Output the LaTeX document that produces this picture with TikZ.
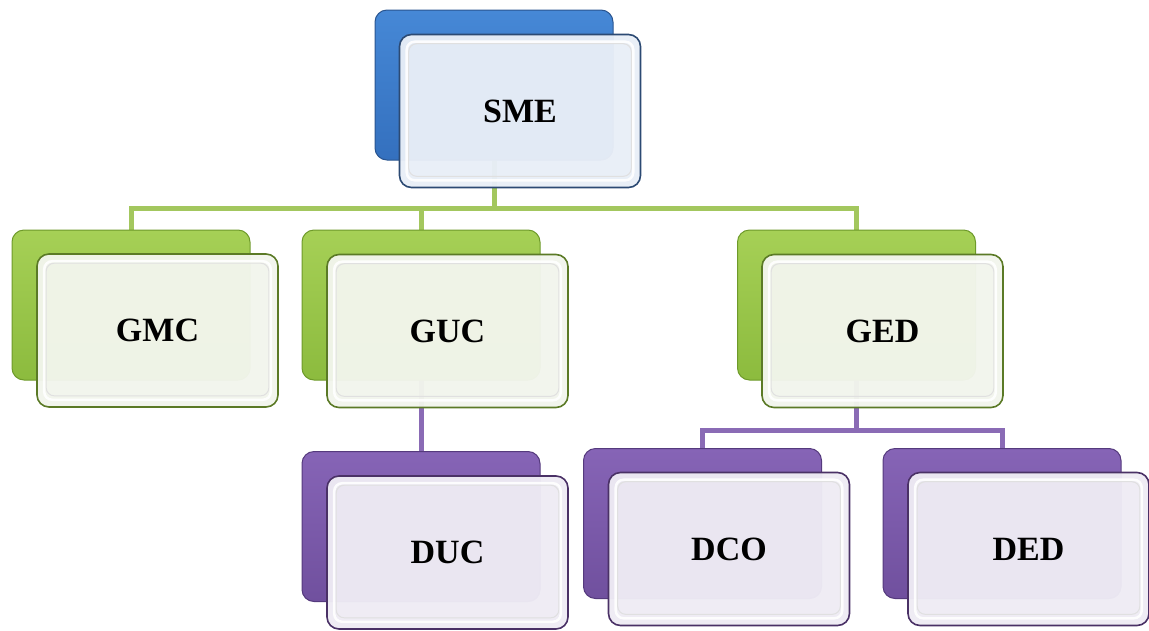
\documentclass[tikz,border=0pt]{standalone}
\usepackage{fontspec}
\setmainfont{Liberation Serif}
\usetikzlibrary{backgrounds,calc}
\definecolor{bTop}{HTML}{4688D6}
\definecolor{bBot}{HTML}{3470BE}
\definecolor{bEdge}{HTML}{2A5590}
\definecolor{bFill}{HTML}{E8EEF7}
\definecolor{bLine}{HTML}{2C4A73}
\definecolor{gTop}{HTML}{A6D056}
\definecolor{gBot}{HTML}{8CBB3E}
\definecolor{gEdge}{HTML}{6E9A2A}
\definecolor{gFill}{HTML}{F2F5EC}
\definecolor{gLine}{HTML}{5B7A26}
\definecolor{gConn}{HTML}{A3C75E}
\definecolor{pTop}{HTML}{8664B6}
\definecolor{pBot}{HTML}{70509E}
\definecolor{pEdge}{HTML}{553A7D}
\definecolor{pFill}{HTML}{EEEBF4}
\definecolor{pLine}{HTML}{4A3166}
\definecolor{pConn}{HTML}{8A6BB5}
\tikzset{
  backbox/.style={rounded corners=12pt, minimum width=238pt, minimum height=150pt, inner sep=0pt, line width=1pt},
  frontbox/.style={rounded corners=12pt, minimum width=241pt, minimum height=153pt, inner sep=0pt, line width=1.6pt, fill opacity=0.97, text opacity=1,
     font=\bfseries\fontsize{34}{38}\selectfont},
  bluebk/.style={backbox, draw=bEdge, top color=bTop, bottom color=bBot},
  greenbk/.style={backbox, draw=gEdge, top color=gTop, bottom color=gBot},
  purplebk/.style={backbox, draw=pEdge, top color=pTop, bottom color=pBot},
  bluefr/.style={frontbox, draw=bLine, fill=bFill},
  greenfr/.style={frontbox, draw=gLine, fill=gFill},
  purplefr/.style={frontbox, draw=pLine, fill=pFill},
  gconn/.style={draw=gConn, line width=5pt},
  pconn/.style={draw=pConn, line width=5pt},
  bevel/.style={draw=white, line width=2.5pt, rounded corners=8pt, opacity=0.9},
  bevelshade/.style={draw=black!12, line width=1pt, rounded corners=8pt},
}
\newcommand{\insetbevel}[1]{%
  \draw[bevelshade] ($(#1.north west)+(10,10)$) rectangle ($(#1.south east)+(-10,-12)$);
  \draw[bevel] ($(#1.north west)+(8,8)$) rectangle ($(#1.south east)+(-8,-8)$);
}
\begin{document}
\begin{tikzpicture}[x=1pt,y=-1pt]
\useasboundingbox (0,0) rectangle (1149,630);
\node[bluebk] (smeb) at (494,85) {};
\node[bluefr] (sme) at (520,111) {SME};
\insetbevel{sme}
\node[greenbk] (gmcb) at (131,305) {};
\node[greenfr] (gmc) at (157.5,330.5) {GMC};
\insetbevel{gmc}
\node[greenbk] (gucb) at (421,305) {};
\node[greenfr] (guc) at (447.5,331) {GUC};
\insetbevel{guc}
\node[greenbk] (gedb) at (856.5,305) {};
\node[greenfr] (ged) at (882.5,331) {GED};
\insetbevel{ged}
\node[purplebk] (ducb) at (421,526.5) {};
\node[purplefr] (duc) at (447.5,552.5) {DUC};
\insetbevel{duc}
\node[purplebk] (dcob) at (702.5,523.5) {};
\node[purplefr] (dco) at (729,549) {DCO};
\insetbevel{dco}
\node[purplebk] (dedb) at (1002,523.5) {};
\node[purplefr] (ded) at (1028.5,549) {DED};
\insetbevel{ded}
\begin{scope}[on background layer]
  \coordinate (bus1) at (494,208);
  \coordinate (bus2) at (856.5,430);
  \draw[gconn] (smeb.center) -- (bus1);
  \draw[gconn] (bus1) -| (gmcb.center);
  \draw[gconn] (bus1) -| (gucb.center);
  \draw[gconn] (bus1) -| (gedb.center);
  \draw[pconn] (gucb.center) -- (ducb.center);
  \draw[pconn] (gedb.center) -- (bus2);
  \draw[pconn] (bus2) -| (dcob.center);
  \draw[pconn] (bus2) -| (dedb.center);
\end{scope}
\end{tikzpicture}
\end{document}
